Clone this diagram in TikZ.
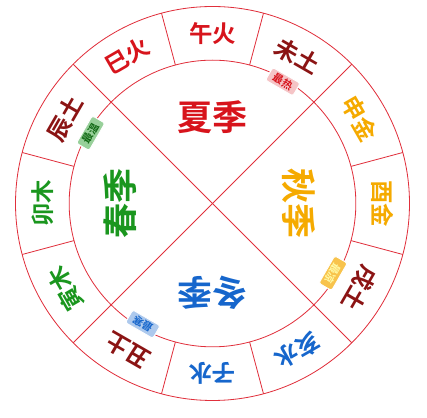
\documentclass[tikz,border=0pt]{standalone}
\usepackage{fontspec}
\newfontfamily\cjk{Noto Sans CJK SC}[BoldFont={Noto Sans CJK SC Bold}]
\usepackage{xcolor}
\usepackage{tikz}
\usetikzlibrary{positioning}
\definecolor{WX_LINE}{HTML}{E0303C}
\definecolor{WX_FIRE}{HTML}{D7141C}
\definecolor{WX_EARTH}{HTML}{8B1414}
\definecolor{WX_METAL}{HTML}{F5AA00}
\definecolor{WX_WATER}{HTML}{1666CC}
\definecolor{WX_WOOD}{HTML}{1A961E}
\tikzset{
  branch/.style={
    inner sep=0pt, text centered,
    font=\cjk\bfseries\fontsize{20}{20}\selectfont},
  season/.style={
    inner sep=0pt, text centered,
    font=\cjk\bfseries\fontsize{30}{30}\selectfont},
  badge/.style={
    rectangle, rounded corners=2pt,
    minimum width=0.95cm, minimum height=0.44cm, inner sep=1pt,
    draw=white, line width=0.8pt,
    font=\cjk\bfseries\fontsize{9}{9}\selectfont},
  rim/.style={draw=WX_LINE, line width=0.7pt},
}

\begin{document}
\begin{tikzpicture}

  \useasboundingbox (-6.375,-6.435) rectangle (6.435,6.105);

  % rings
  \draw[rim] (0,0) circle (5.91cm);
  \draw[rim] (0,0) circle (4.3cm);

  % ring dividers, the four at 45 degrees run to the centre
  \foreach \a in {15,75,105,165,195,255,285,345}
    \draw[rim] (\a:4.3) -- (\a:5.91);
  \foreach \a in {45,135,225,315}
    \draw[rim] (0,0) -- (\a:5.91);

  % twelve branches
  \foreach \a/\txt/\col [count=\i] in {
      90/午火/WX_FIRE, 120/巳火/WX_FIRE, 150/辰土/WX_EARTH,
      180/卯木/WX_WOOD, 210/寅木/WX_WOOD, 240/丑土/WX_EARTH,
      270/子水/WX_WATER, 300/亥水/WX_WATER, 330/戌土/WX_EARTH,
      0/酉金/WX_METAL, 30/申金/WX_METAL, 60/未土/WX_EARTH}
    \node[branch, text=\col, rotate=\a-90] (b\i) at (\a:5.1) {\txt};

  % seasons
  \node[season, text=WX_FIRE] (summer) at (90:2.58) {夏季};
  \node[season, text=WX_METAL, rotate=-90] (autumn) at (0:2.6) {秋季};
  \node[season, text=WX_WATER, rotate=180] (winter) at (270:2.68) {冬季};
  \node[season, text=WX_WOOD, rotate=90] (spring) at (180:2.76) {春季};

  % extremes
  \node[badge, fill=WX_FIRE!25, text=WX_FIRE, rotate=-30] (hot) at (60:4.22) {最热};
  \node[badge, fill=WX_WOOD!45, text=WX_WOOD!70!black, rotate=60] (warm) at (150:4.22) {最温};
  \node[badge, fill=WX_METAL!70, text=yellow!35, rotate=240] (cool) at (330:4.18) {最凉};
  \node[badge, fill=WX_WATER!35, text=WX_WATER, rotate=150] (cold) at (240:4.18) {最寒};

\end{tikzpicture}
\end{document}
